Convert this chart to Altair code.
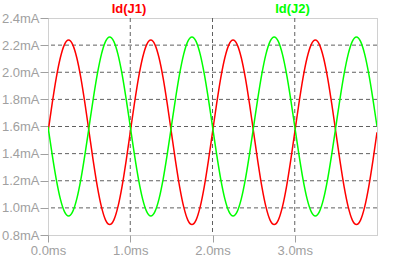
import altair as alt
import pandas as pd

# time axis (ms)
time_ms = [0.00, 0.05, 0.10, 0.15, 0.20, 0.25, 0.30, 0.35, 0.40, 0.45,
           0.50, 0.55, 0.60, 0.65, 0.70, 0.75, 0.80, 0.85, 0.90, 0.95,
           1.00, 1.05, 1.10, 1.15, 1.20, 1.25, 1.30, 1.35, 1.40, 1.45,
           1.50, 1.55, 1.60, 1.65, 1.70, 1.75, 1.80, 1.85, 1.90, 1.95,
           2.00, 2.05, 2.10, 2.15, 2.20, 2.25, 2.30, 2.35, 2.40, 2.45,
           2.50, 2.55, 2.60, 2.65, 2.70, 2.75, 2.80, 2.85, 2.90, 2.95,
           3.00, 3.05, 3.10, 3.15, 3.20, 3.25, 3.30, 3.35, 3.40, 3.45,
           3.50, 3.55, 3.60, 3.65, 3.70, 3.75, 3.80, 3.85, 3.90, 3.95,
           4.00]

# Id(J1) in mA
id_j1 = [1.557, 1.767, 1.957, 2.107, 2.204, 2.237, 2.204, 2.107, 1.957, 1.767,
         1.557, 1.347, 1.157, 1.007, 0.910, 0.877, 0.910, 1.007, 1.157, 1.347,
         1.557, 1.767, 1.957, 2.107, 2.204, 2.237, 2.204, 2.107, 1.957, 1.767,
         1.557, 1.347, 1.157, 1.007, 0.910, 0.877, 0.910, 1.007, 1.157, 1.347,
         1.557, 1.767, 1.957, 2.107, 2.204, 2.237, 2.204, 2.107, 1.957, 1.767,
         1.557, 1.347, 1.157, 1.007, 0.910, 0.877, 0.910, 1.007, 1.157, 1.347,
         1.557, 1.767, 1.957, 2.107, 2.204, 2.237, 2.204, 2.107, 1.957, 1.767,
         1.557, 1.347, 1.157, 1.007, 0.910, 0.877, 0.910, 1.007, 1.157, 1.347,
         1.557]

# Id(J2) in mA
id_j2 = [1.600, 1.396, 1.212, 1.066, 0.972, 0.940, 0.972, 1.066, 1.212, 1.396,
         1.600, 1.804, 1.988, 2.134, 2.228, 2.260, 2.228, 2.134, 1.988, 1.804,
         1.600, 1.396, 1.212, 1.066, 0.972, 0.940, 0.972, 1.066, 1.212, 1.396,
         1.600, 1.804, 1.988, 2.134, 2.228, 2.260, 2.228, 2.134, 1.988, 1.804,
         1.600, 1.396, 1.212, 1.066, 0.972, 0.940, 0.972, 1.066, 1.212, 1.396,
         1.600, 1.804, 1.988, 2.134, 2.228, 2.260, 2.228, 2.134, 1.988, 1.804,
         1.600, 1.396, 1.212, 1.066, 0.972, 0.940, 0.972, 1.066, 1.212, 1.396,
         1.600, 1.804, 1.988, 2.134, 2.228, 2.260, 2.228, 2.134, 1.988, 1.804,
         1.600]

series_names = ["Id(J1)", "Id(J2)"]
series_colors = ["#ff0000", "#00ff00"]

y_ticks = [0.8, 1.0, 1.2, 1.4, 1.6, 1.8, 2.0, 2.2, 2.4]
x_ticks = [0.0, 1.0, 2.0, 3.0]
y_grid = [1.0, 1.2, 1.4, 1.6, 1.8, 2.0, 2.2]
x_grid = [1.0, 2.0, 3.0]

df = pd.concat([
    pd.DataFrame({"t": time_ms, "v": id_j1, "s": series_names[0]}),
    pd.DataFrame({"t": time_ms, "v": id_j2, "s": series_names[1]}),
])

xscale = alt.Scale(domain=[0, 4], nice=False, zero=False)
yscale = alt.Scale(domain=[0.8, 2.4], nice=False, zero=False)

GRAY = "#a0a0a0"
GRID = "#606060"
FONT = "Liberation Sans"

xaxis = alt.Axis(values=x_ticks, labelExpr="format(datum.value, '.1f') + 'ms'",
                 title=None, grid=False, domain=False, tickColor=GRAY, tickSize=7,
                 labelColor=GRAY, labelFont=FONT, labelFontSize=13, labelPadding=2,
                 labelFlush=False, labelOverlap=False)
yaxis = alt.Axis(values=y_ticks, labelExpr="format(datum.value, '.1f') + 'mA'",
                 title=None, grid=False, domain=False, tickColor=GRAY, tickSize=8,
                 labelColor=GRAY, labelFont=FONT, labelFontSize=13, labelPadding=1,
                 labelOverlap=False)

hgrid = alt.Chart(pd.DataFrame({"g": y_grid})).mark_rule(
    color=GRID, strokeDash=[4, 3], strokeWidth=1
).encode(y=alt.Y("g:Q", scale=yscale, axis=yaxis))

vgrid = alt.Chart(pd.DataFrame({"g": x_grid})).mark_rule(
    color=GRID, strokeDash=[4, 3], strokeWidth=1
).encode(x=alt.X("g:Q", scale=xscale, axis=xaxis))

lines = alt.Chart(df).mark_line(strokeWidth=1.5, interpolate="monotone", clip=True).encode(
    x=alt.X("t:Q", scale=xscale, axis=xaxis),
    y=alt.Y("v:Q", scale=yscale, axis=yaxis),
    color=alt.Color("s:N", scale=alt.Scale(domain=series_names, range=series_colors), legend=None),
    detail="s:N",
)

lab1 = alt.Chart(pd.DataFrame({"label": [series_names[0]]})).mark_text(
    font=FONT, fontSize=13, fontWeight="bold", color=series_colors[0], baseline="middle"
).encode(text="label:N", x=alt.value(81), y=alt.value(-9))

lab2 = alt.Chart(pd.DataFrame({"label": [series_names[1]]})).mark_text(
    font=FONT, fontSize=13, fontWeight="bold", color=series_colors[1], baseline="middle"
).encode(text="label:N", x=alt.value(244.5), y=alt.value(-9))

chart = alt.layer(hgrid, vgrid, lines, lab1, lab2).properties(
    width=329, height=217,
    autosize=alt.AutoSizeParams(type="none"),
    padding={"left": 48, "top": 18, "right": 20, "bottom": 26},
    background="white",
).configure_view(stroke=GRAY, strokeDash=[1, 1], strokeWidth=1)

chart.save("out.html", embed_options={"renderer": "svg", "actions": False})
